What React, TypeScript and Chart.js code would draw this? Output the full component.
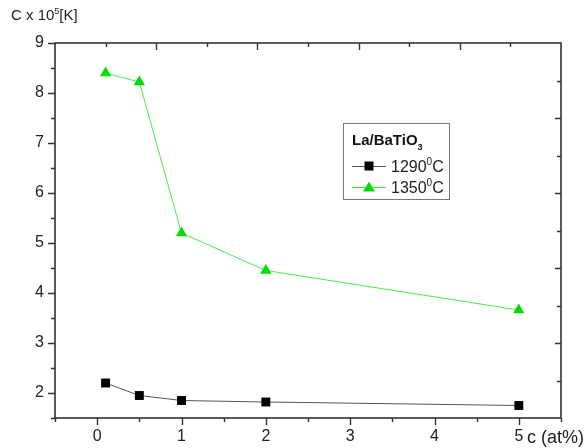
import React, { useEffect, useRef } from 'react';
import { Chart, registerables } from 'chart.js';

Chart.register(...registerables);

// ---- data ----
const xValues = [0.1, 0.5, 1, 2, 5];
const series1290 = [2.2, 1.95, 1.85, 1.82, 1.75];
const series1350 = [8.4, 8.22, 5.2, 4.45, 3.66];
const seriesNames = ['1290', '1350'];
const seriesUnitSup = '0';
const seriesUnit = 'C';
const legendTitle = 'La/BaTiO';
const legendTitleSub = '3';
const yTitle = 'C x 10';
const yTitleSup = '5';
const yTitleEnd = '[K]';
const xTitle = 'c (at%)';
const xTickValues = [0, 1, 2, 3, 4, 5];
const yTickValues = [2, 3, 4, 5, 6, 7, 8, 9];
const xRange = [-0.5, 5.5];
const yRange = [1.5, 9];

const FONT = '"Liberation Sans", Arial, Helvetica, sans-serif';

type Part = { text: string; size: number; bold?: boolean; dy?: number };

function drawRich(ctx: CanvasRenderingContext2D, parts: Part[], x: number, y: number, color: string) {
  ctx.save();
  ctx.fillStyle = color;
  ctx.textBaseline = 'alphabetic';
  ctx.textAlign = 'left';
  let cx = x;
  for (const p of parts) {
    ctx.font = `${p.bold ? 'bold ' : ''}${p.size}px ${FONT}`;
    ctx.fillText(p.text, cx, y + (p.dy || 0));
    cx += ctx.measureText(p.text).width;
  }
  ctx.restore();
}

const framePlugin = {
  id: 'framePlugin',
  afterDraw(chart: any) {
    const ctx: CanvasRenderingContext2D = chart.ctx;
    const a = chart.chartArea;
    const xs = chart.scales.x;
    const ys = chart.scales.y;
    const xt = chart.scales.x2;
    const yr = chart.scales.y2;
    ctx.save();
    ctx.strokeStyle = '#333';
    ctx.lineWidth = 1.6;
    ctx.strokeRect(a.left, a.top, a.right - a.left, a.bottom - a.top);
    ctx.lineWidth = 1.4;
    ctx.beginPath();
    // bottom ticks (outward), major at integers, minor at halves
    for (let v = xs.min; v <= xs.max + 1e-9; v += 0.5) {
      const px = Math.round(xs.getPixelForValue(v)) + 0.5;
      const len = Math.abs(v - Math.round(v)) < 1e-9 ? 7 : 4;
      ctx.moveTo(px, a.bottom);
      ctx.lineTo(px, a.bottom + len);
    }
    // left ticks (outward)
    for (let v = ys.min; v <= ys.max + 1e-9; v += 0.5) {
      const py = Math.round(ys.getPixelForValue(v)) + 0.5;
      const len = Math.abs(v - Math.round(v)) < 1e-9 ? 7 : 4;
      ctx.moveTo(a.left, py);
      ctx.lineTo(a.left - len, py);
    }
    // top ticks (inward)
    for (let v = xt.min + 1; v < xt.max; v += 1) {
      const px = Math.round(xt.getPixelForValue(v)) + 0.5;
      const len = v % 2 === 0 ? 7 : 4;
      ctx.moveTo(px, a.top);
      ctx.lineTo(px, a.top + len);
    }
    // right ticks (inward)
    for (let v = yr.min + 1; v < yr.max; v += 1) {
      const py = Math.round(yr.getPixelForValue(v)) + 0.5;
      const len = v % 2 === 0 ? 6 : 4;
      ctx.moveTo(a.right, py);
      ctx.lineTo(a.right - len, py);
    }
    ctx.stroke();
    ctx.restore();

    // axis titles
    drawRich(ctx, [
      { text: yTitle, size: 15 },
      { text: yTitleSup, size: 9, dy: -6 },
      { text: yTitleEnd, size: 15 },
    ], 11, 20, '#222');
    drawRich(ctx, [{ text: xTitle, size: 18 }], 527, 443, '#222');

    // legend
    const bx = 343.5, by = 123.5, bw = 106, bh = 76;
    ctx.save();
    ctx.fillStyle = '#fff';
    ctx.fillRect(bx, by, bw, bh);
    ctx.strokeStyle = '#777';
    ctx.lineWidth = 1;
    ctx.strokeRect(bx, by, bw, bh);
    ctx.restore();
    drawRich(ctx, [
      { text: legendTitle, size: 15, bold: true },
      { text: legendTitleSub, size: 9, bold: true, dy: 5 },
    ], 352, 145, '#111');
    const rows = [166, 187];
    chart.data.datasets.forEach((ds: any, i: number) => {
      const cy = rows[i];
      ctx.save();
      ctx.strokeStyle = ds.borderColor;
      ctx.lineWidth = 1;
      ctx.beginPath();
      ctx.moveTo(352, cy + 0.5);
      ctx.lineTo(386, cy + 0.5);
      ctx.stroke();
      ctx.fillStyle = ds.pointBackgroundColor;
      const mx = 369;
      if (ds.pointStyle === 'rect') {
        ctx.fillRect(mx - 4.5, cy - 4.5, 9, 9);
      } else {
        ctx.beginPath();
        ctx.moveTo(mx, cy - 5.5);
        ctx.lineTo(mx + 6, cy + 4.5);
        ctx.lineTo(mx - 6, cy + 4.5);
        ctx.closePath();
        ctx.fill();
      }
      ctx.restore();
      drawRich(ctx, [
        { text: seriesNames[i], size: 16 },
        { text: seriesUnitSup, size: 10, dy: -7 },
        { text: seriesUnit, size: 16 },
      ], 391, cy + 5.5, '#222');
    });
  },
};

export default function App() {
  const ref = useRef<HTMLCanvasElement>(null);
  useEffect(() => {
    if (!ref.current) return;
    const chart = new Chart(ref.current, {
      type: 'line',
      data: {
        datasets: [
          {
            label: seriesNames[0],
            data: xValues.map((x, i) => ({ x, y: series1290[i] })),
            borderColor: '#555',
            borderWidth: 1,
            pointStyle: 'rect',
            pointRadius: 6.3,
            pointBackgroundColor: '#000',
            pointBorderColor: '#000',
            pointBorderWidth: 0,
          },
          {
            label: seriesNames[1],
            data: xValues.map((x, i) => ({ x, y: series1350[i] })),
            borderColor: '#44ee44',
            borderWidth: 1,
            pointStyle: 'triangle',
            pointRadius: 6.5,
            pointBackgroundColor: '#00dd00',
            pointBorderColor: '#00dd00',
            pointBorderWidth: 0,
          },
        ],
      },
      options: {
        animation: false,
        responsive: false,
        maintainAspectRatio: false,
        layout: { padding: { top: 43, right: 26, left: 0, bottom: 0 } },
        plugins: { legend: { display: false }, tooltip: { enabled: false } },
        scales: {
          x: {
            type: 'linear',
            position: 'bottom',
            min: xRange[0],
            max: xRange[1],
            border: { display: false },
            grid: { display: false, drawTicks: false, tickLength: 0 },
            afterBuildTicks: (s: any) => { s.ticks = xTickValues.map((value) => ({ value })); },
            afterFit: (s: any) => { s.height = 30; },
            ticks: {
              padding: 9,
              color: '#222',
              font: { family: FONT, size: 16 },
              maxRotation: 0,
              autoSkip: false,
              callback: (v: any) => String(v),
            },
          },
          y: {
            type: 'linear',
            position: 'left',
            min: yRange[0],
            max: yRange[1],
            border: { display: false },
            grid: { display: false, drawTicks: false, tickLength: 0 },
            afterBuildTicks: (s: any) => { s.ticks = yTickValues.map((value) => ({ value })); },
            afterFit: (s: any) => { s.width = 55; },
            ticks: {
              padding: 11,
              color: '#222',
              font: { family: FONT, size: 16 },
              autoSkip: false,
              callback: (v: any) => String(v),
            },
          },
          x2: { type: 'linear', position: 'top', min: 0, max: 10, display: false },
          y2: { type: 'linear', position: 'right', min: 0, max: 10, display: false },
        },
      } as any,
      plugins: [framePlugin],
    });
    return () => chart.destroy();
  }, []);
  return (
    <div style={{ position: 'fixed', left: 0, top: 0, width: 587, height: 448, background: '#fff' }}>
      <canvas ref={ref} width={587} height={448} style={{ display: 'block' }} />
    </div>
  );
}
